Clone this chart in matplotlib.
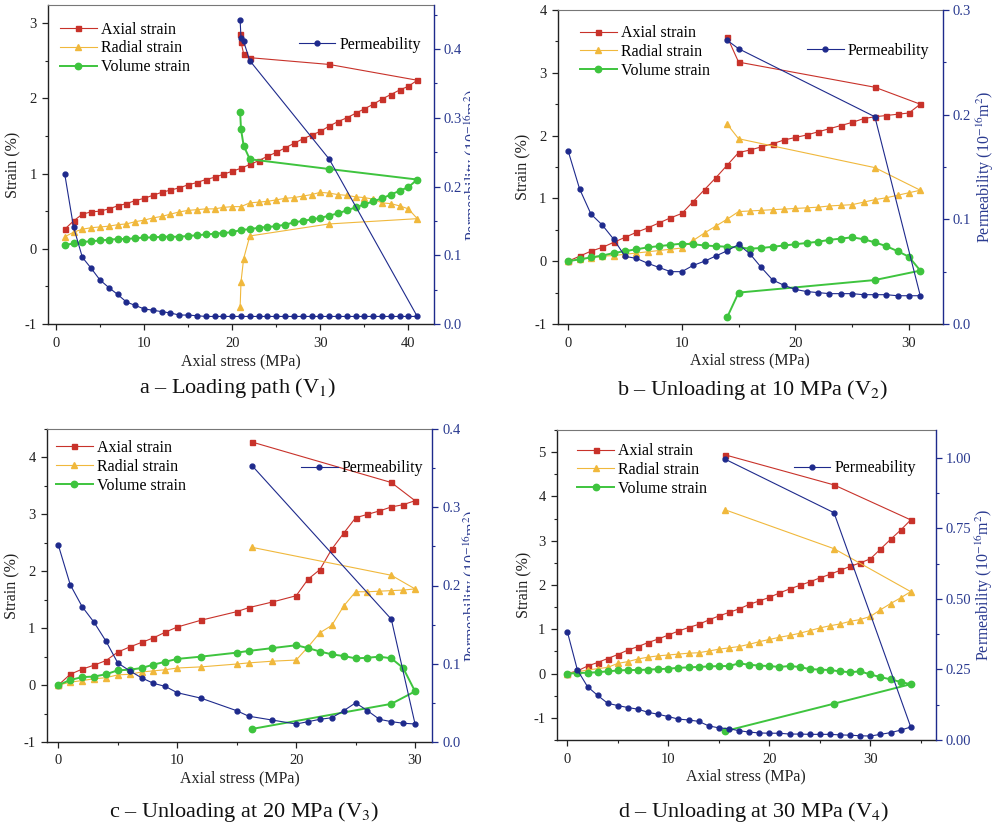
import matplotlib
matplotlib.use("Agg")
import matplotlib.pyplot as plt
from matplotlib.ticker import MultipleLocator, FormatStrFormatter
from matplotlib.transforms import Bbox, TransformedBbox

plt.rcParams['font.family'] = ['Liberation Serif', 'DejaVu Serif']
plt.rcParams['mathtext.fontset'] = 'stix'
plt.rcParams['axes.unicode_minus'] = False

# ---------------- Panel a: Loading path (V1) ----------------
stress_a = list(range(1, 42)) + [31, 22, 21.3, 21.0, 20.9]
axial_a = [0.26, 0.37, 0.46, 0.49, 0.50, 0.53, 0.57, 0.60, 0.64, 0.67, 0.71, 0.75, 0.78, 0.81,
           0.85, 0.88, 0.92, 0.95, 0.99, 1.03, 1.07, 1.12, 1.17, 1.23, 1.28, 1.34, 1.40, 1.46,
           1.51, 1.56, 1.63, 1.69, 1.74, 1.80, 1.86, 1.92, 1.99, 2.05, 2.11, 2.16, 2.24,
           2.45, 2.54, 2.59, 2.75, 2.85]
radial_a = [0.16, 0.22, 0.26, 0.28, 0.29, 0.30, 0.32, 0.33, 0.36, 0.38, 0.41, 0.43, 0.46, 0.49,
            0.51, 0.52, 0.53, 0.53, 0.55, 0.56, 0.56, 0.61, 0.62, 0.63, 0.65, 0.67, 0.68, 0.70,
            0.72, 0.75, 0.74, 0.72, 0.71, 0.69, 0.68, 0.66, 0.61, 0.60, 0.57, 0.53, 0.40,
            0.33, 0.17, -0.13, -0.44, -0.78]
volume_a = [0.05, 0.07, 0.09, 0.10, 0.11, 0.12, 0.13, 0.13, 0.14, 0.15, 0.15, 0.16, 0.16, 0.16,
            0.17, 0.18, 0.19, 0.20, 0.21, 0.22, 0.25, 0.26, 0.28, 0.29, 0.30, 0.32, 0.35, 0.37,
            0.39, 0.41, 0.44, 0.47, 0.51, 0.55, 0.59, 0.63, 0.67, 0.72, 0.77, 0.82, 0.92,
            1.06, 1.19, 1.37, 1.59, 1.82]
perm_a = [0.218, 0.141, 0.097, 0.081, 0.064, 0.053, 0.043, 0.032, 0.027, 0.022, 0.020, 0.018,
          0.016, 0.013, 0.013, 0.012] + [0.011] * 25 + [0.240, 0.383, 0.411, 0.416, 0.442]

# ---------------- Panel b: Unloading at 10 MPa (V2) ----------------
stress_b = list(range(0, 32)) + [27, 15, 14]
axial_b = [0, 0.08, 0.16, 0.22, 0.30, 0.38, 0.46, 0.53, 0.61, 0.69, 0.76, 0.95, 1.14, 1.33,
           1.53, 1.73, 1.77, 1.82, 1.87, 1.93, 1.97, 2.01, 2.06, 2.11, 2.16, 2.21, 2.27, 2.30,
           2.32, 2.34, 2.36, 2.50, 2.77, 3.17, 3.57]
radial_b = [0, 0.03, 0.05, 0.08, 0.09, 0.11, 0.13, 0.15, 0.17, 0.19, 0.21, 0.33, 0.45, 0.56,
            0.67, 0.79, 0.80, 0.81, 0.82, 0.83, 0.84, 0.85, 0.86, 0.88, 0.89, 0.90, 0.94, 0.98,
            1.01, 1.05, 1.09, 1.13, 1.49, 1.95, 2.18]
volume_b = [0, 0.03, 0.06, 0.09, 0.13, 0.16, 0.19, 0.22, 0.24, 0.26, 0.28, 0.27, 0.25, 0.24,
            0.23, 0.22, 0.20, 0.21, 0.23, 0.25, 0.27, 0.29, 0.31, 0.34, 0.36, 0.38, 0.35, 0.30,
            0.24, 0.16, 0.07, -0.15, -0.30, -0.50, -0.89]
perm_b = [0.165, 0.129, 0.105, 0.0945, 0.081, 0.0646, 0.0627, 0.058, 0.054, 0.050, 0.050, 0.056,
          0.060, 0.065, 0.070, 0.076, 0.067, 0.054, 0.042, 0.037, 0.033, 0.031, 0.030, 0.029,
          0.029, 0.029, 0.028, 0.028, 0.028, 0.027, 0.027, 0.027, 0.198, 0.263, 0.271]

# ---------------- Panel c: Unloading at 20 MPa (V3) ----------------
stress_c = list(range(0, 11)) + [12, 15, 16, 18] + list(range(20, 31)) + [28, 16.3]
axial_c = [0, 0.19, 0.28, 0.35, 0.43, 0.58, 0.67, 0.75, 0.83, 0.93, 1.02, 1.14, 1.29, 1.36,
           1.46, 1.57, 1.86, 2.03, 2.39, 2.67, 2.94, 3.00, 3.06, 3.13, 3.17, 3.24, 3.56, 4.27]
radial_c = [0, 0.05, 0.08, 0.11, 0.13, 0.18, 0.19, 0.23, 0.25, 0.27, 0.30, 0.32, 0.37, 0.39,
            0.42, 0.44, 0.67, 0.92, 1.05, 1.39, 1.64, 1.64, 1.65, 1.66, 1.67, 1.69, 1.93, 2.42]
volume_c = [0, 0.09, 0.14, 0.15, 0.19, 0.26, 0.27, 0.30, 0.36, 0.41, 0.46, 0.50, 0.57, 0.60,
            0.65, 0.70, 0.65, 0.59, 0.54, 0.51, 0.47, 0.48, 0.50, 0.47, 0.30, -0.11, -0.33, -0.77]
perm_c = [0.2515, 0.201, 0.173, 0.153, 0.129, 0.101, 0.091, 0.082, 0.075, 0.071, 0.063, 0.056,
          0.040, 0.033, 0.028, 0.023, 0.026, 0.029, 0.031, 0.040, 0.050, 0.040, 0.029, 0.026,
          0.024, 0.023, 0.157, 0.353]

# ---------------- Panel d: Unloading at 30 MPa (V4) ----------------
stress_d = list(range(0, 35)) + [26.4, 15.6]
axial_d = [0, 0.06, 0.17, 0.25, 0.34, 0.43, 0.53, 0.61, 0.70, 0.78, 0.87, 0.96, 1.04, 1.11,
           1.21, 1.30, 1.38, 1.46, 1.56, 1.64, 1.72, 1.82, 1.91, 1.99, 2.07, 2.16, 2.24, 2.33,
           2.42, 2.50, 2.59, 2.81, 3.03, 3.24, 3.47, 4.26, 4.94]
radial_d = [0, 0.04, 0.08, 0.11, 0.14, 0.23, 0.27, 0.33, 0.37, 0.40, 0.42, 0.44, 0.46, 0.47,
            0.51, 0.55, 0.58, 0.61, 0.66, 0.72, 0.77, 0.82, 0.86, 0.91, 0.97, 1.03, 1.08, 1.12,
            1.18, 1.22, 1.29, 1.44, 1.58, 1.71, 1.85, 2.82, 3.70]
volume_d = [0, 0.01, 0.02, 0.03, 0.05, 0.07, 0.08, 0.08, 0.09, 0.10, 0.11, 0.13, 0.14, 0.15,
            0.16, 0.17, 0.17, 0.23, 0.20, 0.18, 0.17, 0.15, 0.17, 0.15, 0.10, 0.09, 0.08, 0.05,
            0.03, 0.05, -0.02, -0.08, -0.13, -0.19, -0.24, -0.68, -1.30]
perm_d = [0.384, 0.248, 0.189, 0.158, 0.130, 0.122, 0.115, 0.109, 0.098, 0.091, 0.083, 0.074,
          0.071, 0.066, 0.050, 0.043, 0.040, 0.033, 0.028, 0.025, 0.024, 0.024, 0.021, 0.021,
          0.020, 0.020, 0.020, 0.018, 0.017, 0.015, 0.014, 0.020, 0.026, 0.035, 0.046, 0.805, 0.995]

captions = ["a \u2013 Loading path (V$_1$)", "b \u2013 Unloading at 10 MPa (V$_2$)",
            "c \u2013 Unloading at 20 MPa (V$_3$)", "d \u2013 Unloading at 30 MPa (V$_4$)"]
series_labels = ["Axial strain", "Radial strain", "Volume strain", "Permeability"]

RED = '#c8322a'
YEL = '#f0b83c'
GRN = '#3ec43e'
BLU = '#1e2a8c'
NAVY_TXT = '#2a3a90'

W, H = 996, 830
fig = plt.figure(figsize=(W / 100, H / 100), dpi=100)


def px_axes(l, t, r, b):
    return [l / W, 1 - b / H, (r - l) / W, (b - t) / H]


panels = [
    dict(rect=(48, 5, 434, 324), x=stress_a, ax_=axial_a, rad=radial_a, vol=volume_a, perm=perm_a,
         xlim=(-0.9, 42.9), ylim=(-1, 3.24), ylim2=(0, 0.464), yt=[-1, 0, 1, 2, 3],
         y2t=[0.0, 0.1, 0.2, 0.3, 0.4], y2fmt='%.1f', y2minor=0.05, xt=[0, 10, 20, 30, 40],
         leg=(0.031, 0.864), pleg=(0.966, 0.875), ylx=-0.07, y2lx=1.073, clip=True,
         cap=(237, 388)),
    dict(rect=(557.7, 10, 943, 324), x=stress_b, ax_=axial_b, rad=radial_b, vol=volume_b, perm=perm_b,
         xlim=(-0.93, 33.0), ylim=(-1, 4), ylim2=(0, 0.3), yt=[-1, 0, 1, 2, 3, 4],
         y2t=[0.0, 0.1, 0.2, 0.3], y2fmt='%.1f', y2minor=0.05, xt=[0, 10, 20, 30],
         leg=(0.058, 0.866), pleg=(0.964, 0.87), ylx=-0.067, y2lx=1.083, clip=False,
         cap=(753, 390)),
    dict(rect=(46.7, 429, 432.3, 742), x=stress_c, ax_=axial_c, rad=radial_c, vol=volume_c, perm=perm_c,
         xlim=(-0.98, 31.45), ylim=(-1, 4.5), ylim2=(0, 0.4), yt=[-1, 0, 1, 2, 3, 4],
         y2t=[0.0, 0.1, 0.2, 0.3, 0.4], y2fmt='%.1f', y2minor=0.05, xt=[0, 10, 20, 30],
         leg=(0.024, 0.879), pleg=(0.976, 0.875), ylx=-0.067, y2lx=1.077, clip=True,
         cap=(244, 812)),
    dict(rect=(556.7, 430, 936, 740), x=stress_d, ax_=axial_d, rad=radial_d, vol=volume_d, perm=perm_d,
         xlim=(-1.05, 36.5), ylim=(-1.5, 5.5), ylim2=(0, 1.098), yt=[-1, 0, 1, 2, 3, 4, 5],
         y2t=[0.0, 0.25, 0.5, 0.75, 1.0], y2fmt='%.2f', y2minor=0.125, xt=[0, 10, 20, 30],
         leg=(0.054, 0.871), pleg=(0.947, 0.877), ylx=-0.065, y2lx=1.098, clip=False,
         cap=(754, 812)),
]

for i, p in enumerate(panels):
    ax = fig.add_axes(px_axes(*p['rect']))
    ax2 = ax.twinx()
    x = p['x']
    l1, = ax.plot(x, p['ax_'], color=RED, lw=0.8, marker='s', ms=3.6, label=series_labels[0])
    l2, = ax.plot(x, p['rad'], color=YEL, lw=0.8, marker='^', ms=4.0, label=series_labels[1])
    l3, = ax.plot(x, p['vol'], color=GRN, lw=1.4, marker='o', ms=4.6, label=series_labels[2])
    l4, = ax2.plot(x, p['perm'], color=BLU, lw=0.8, marker='o', ms=3.5, label=series_labels[3])

    ax.set_xlim(*p['xlim'])
    ax.set_ylim(*p['ylim'])
    ax2.set_ylim(*p['ylim2'])
    ax.set_xticks(p['xt'])
    ax.set_yticks(p['yt'])
    ax.xaxis.set_minor_locator(MultipleLocator(5))
    ax.yaxis.set_minor_locator(MultipleLocator(0.5))
    ax2.set_yticks(p['y2t'])
    ax2.yaxis.set_major_formatter(FormatStrFormatter(p['y2fmt']))
    ax2.yaxis.set_minor_locator(MultipleLocator(p['y2minor']))

    for s in ['left', 'bottom']:
        ax.spines[s].set_color('#222222')
        ax.spines[s].set_linewidth(1.0)
    ax.spines['top'].set_color('#777777')
    ax.spines['top'].set_linewidth(0.8)
    ax.spines['right'].set_visible(False)
    for s in ['left', 'bottom', 'top']:
        ax2.spines[s].set_visible(False)
    ax2.spines['right'].set_color(BLU)
    ax2.spines['right'].set_linewidth(1.0)

    ax.tick_params(axis='both', which='major', direction='out', length=4, width=0.9,
                   labelsize=10.5, colors='#222222')
    ax.tick_params(axis='x', which='major', pad=5)
    ax.tick_params(axis='y', which='major', pad=4)
    ax.tick_params(axis='both', which='minor', direction='out', length=2.5, width=0.8,
                   colors='#222222')
    ax2.tick_params(axis='y', which='major', direction='out', length=4, width=0.9,
                    labelsize=10.5, colors=BLU, labelcolor=NAVY_TXT, pad=3)
    ax2.tick_params(axis='y', which='minor', direction='out', length=2.5, width=0.8, colors=BLU)

    ax.set_xlabel("Axial stress (MPa)", fontsize=11.5, color='#222222')
    ax.xaxis.set_label_coords(0.5, -0.092)
    ax.set_ylabel("Strain (%)", fontsize=11.5, color='#222222')
    ax.yaxis.set_label_coords(p['ylx'], 0.5)
    lab = ax2.set_ylabel("Permeability (10$^{-16}$m$^2$)", fontsize=11.5, color=NAVY_TXT)
    ax2.yaxis.set_label_coords(p['y2lx'], 0.5)
    if p['clip']:
        lab.set_clip_box(TransformedBbox(Bbox([[0, 0], [470 / W, 1]]), fig.transFigure))
        lab.set_clip_on(True)

    ax.legend(handles=[l1, l2, l3], loc='center left', bbox_to_anchor=p['leg'],
              frameon=False, fontsize=11.5, handlelength=2.3, handletextpad=0.25,
              labelspacing=0.18, borderpad=0, borderaxespad=0, numpoints=1)
    ax2.legend(handles=[l4], loc='center right', bbox_to_anchor=p['pleg'], frameon=False,
               fontsize=11.5, handlelength=2.3, handletextpad=0.25, borderpad=0,
               borderaxespad=0, numpoints=1)

    fig.text(p['cap'][0] / W, 1 - p['cap'][1] / H, captions[i], ha='center', va='center',
             fontsize=16, color='#111111')

fig.savefig("out.png", dpi=100)
